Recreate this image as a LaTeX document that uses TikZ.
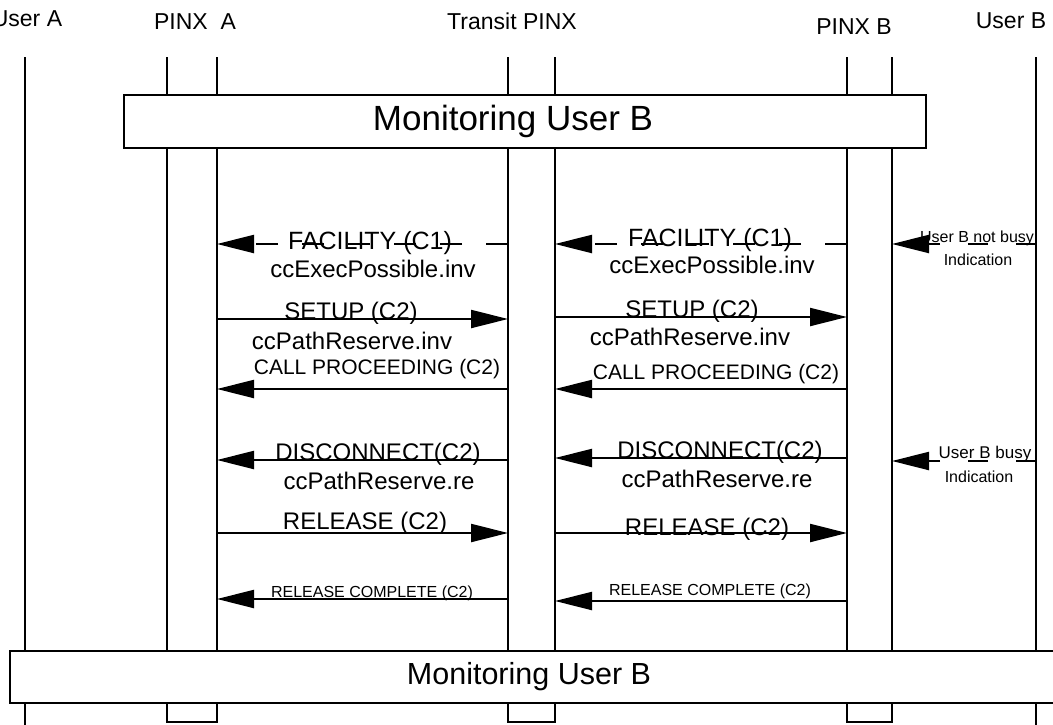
\documentclass[tikz,border=0pt]{standalone}
\usepackage{fontspec}
\setmainfont{Liberation Sans}
\usetikzlibrary{arrows.meta,positioning}

\tikzset{
  lifeline/.style={line width=1.8pt},
  monbox/.style={draw,fill=white,line width=2pt,inner sep=0pt},
  msg/.style={line width=2.2pt,-{Triangle[length=37pt,width=18pt]}},
  dmsg/.style={msg,dash pattern=on 22pt off 24pt},
  umsg/.style={msg,dash pattern=on 20pt off 28pt},
  lbl/.style={anchor=base,inner sep=0pt},
}
\newcommand{\fs}[1]{\fontsize{#1}{#1}\selectfont}

\begin{document}
\begin{tikzpicture}[x=1pt,y=-1pt]
\useasboundingbox (0,0) rectangle (1053,724);
% Lifelines
\coordinate (ua) at (25,57);
\coordinate (pa1) at (167,57);
\coordinate (pa2) at (217,57);
\coordinate (tr1) at (508,57);
\coordinate (tr2) at (555,57);
\coordinate (pb1) at (847,57);
\coordinate (pb2) at (892,57);
\coordinate (ub) at (1036,57);
\coordinate (bot) at (0,722);
\coordinate (end) at (0,730);
\draw[lifeline] (ua) -- (ua|-end);
\draw[lifeline] (ub) -- (ub|-end);
\draw[lifeline] (pa1) -- (pa1|-bot) -- (pa2|-bot) -- (pa2);
\draw[lifeline] (tr1) -- (tr1|-bot) -- (tr2|-bot) -- (tr2);
\draw[lifeline] (pb1) -- (pb1|-bot) -- (pb2|-bot) -- (pb2);
% Headers
\node[lbl,font=\fs{23}] (hua) at (27,26) {User A};
\node[lbl,font=\fs{23}] (hpa) at (195,29) {PINX\ \ A};
\node[lbl,font=\fs{23}] (htr) at (512,29) {Transit PINX};
\node[lbl,font=\fs{23}] (hpb) at (854,34) {PINX B};
\node[lbl,font=\fs{23}] (hub) at (1011,28) {User B};
% Monitoring boxes
\node[monbox,minimum width=802pt,minimum height=53pt] (mon1) at (525,121.5) {};
\node[font=\fs{35}] (mon1t) at (513,121.5) {Monitoring User B};
\node[monbox,minimum width=1052pt,minimum height=52pt] (mon2) at (536,677) {};
\node[font=\fs{30.5}] (mon2t) at (529,677) {Monitoring User B};
% Message rows
\coordinate (m1) at (0,244);
\coordinate (m2) at (0,319);
\coordinate (m2r) at (0,317);
\coordinate (m3) at (0,389);
\coordinate (m4) at (0,460);
\coordinate (m4r) at (0,458);
\coordinate (m4u) at (0,461);
\coordinate (m5) at (0,533);
\coordinate (m6) at (0,599);
\coordinate (m6r) at (0,601);
% PINX A -- Transit PINX
\draw[dmsg] (tr1|-m1) -- (pa2|-m1);
\node[lbl,font=\fs{25}] (fac1) at (370,249) {FACILITY (C1)};
\node[lbl,font=\fs{24}] (fac1b) at (373,277) {ccExecPossible.inv};
\draw[msg] (pa2|-m2) -- (tr1|-m2);
\node[lbl,font=\fs{24}] (set1) at (351,319) {SETUP (C2)};
\node[lbl,font=\fs{24}] (set1b) at (352,349) {ccPathReserve.inv};
\draw[msg] (tr1|-m3) -- (pa2|-m3);
\node[lbl,font=\fs{21}] (cp1) at (377,374) {CALL PROCEEDING (C2)};
\draw[msg] (tr1|-m4) -- (pa2|-m4);
\node[lbl,font=\fs{24}] (dis1) at (378,460) {DISCONNECT(C2)};
\node[lbl,font=\fs{24}] (dis1b) at (379,489) {ccPathReserve.re};
\draw[msg] (pa2|-m5) -- (tr1|-m5);
\node[lbl,font=\fs{24}] (rel1) at (365,529) {RELEASE (C2)};
\draw[msg] (tr1|-m6) -- (pa2|-m6);
\node[lbl,font=\fs{16}] (rc1) at (372,597) {RELEASE COMPLETE (C2)};
% Transit PINX -- PINX B
\draw[dmsg] (pb1|-m1) -- (tr2|-m1);
\node[lbl,font=\fs{25}] (fac2) at (710,246) {FACILITY (C1)};
\node[lbl,font=\fs{24}] (fac2b) at (712,273) {ccExecPossible.inv};
\draw[msg] (tr2|-m2r) -- (pb1|-m2r);
\node[lbl,font=\fs{24}] (set2) at (692,317) {SETUP (C2)};
\node[lbl,font=\fs{24}] (set2b) at (690,345) {ccPathReserve.inv};
\draw[msg] (pb1|-m3) -- (tr2|-m3);
\node[lbl,font=\fs{21}] (cp2) at (716,379) {CALL PROCEEDING (C2)};
\draw[msg] (pb1|-m4r) -- (tr2|-m4r);
\node[lbl,font=\fs{24}] (dis2) at (720,458) {DISCONNECT(C2)};
\node[lbl,font=\fs{24}] (dis2b) at (717,487) {ccPathReserve.re};
\draw[msg] (tr2|-m5) -- (pb1|-m5);
\node[lbl,font=\fs{24}] (rel2) at (707,535) {RELEASE (C2)};
\draw[msg] (pb1|-m6r) -- (tr2|-m6r);
\node[lbl,font=\fs{16}] (rc2) at (710,595) {RELEASE COMPLETE (C2)};
% PINX B -- User B
\draw[umsg] (ub|-m1) -- (pb2|-m1);
\node[lbl,font=\fs{16}] (nb) at (977,242) {User B not busy};
\node[lbl,font=\fs{16}] (nbi) at (978,265) {Indication};
\draw[umsg] (ub|-m4u) -- (pb2|-m4u);
\node[lbl,font=\fs{17}] (bu) at (985,458) {User B busy};
\node[lbl,font=\fs{16}] (bui) at (979,482) {Indication};
\end{tikzpicture}
\end{document}
